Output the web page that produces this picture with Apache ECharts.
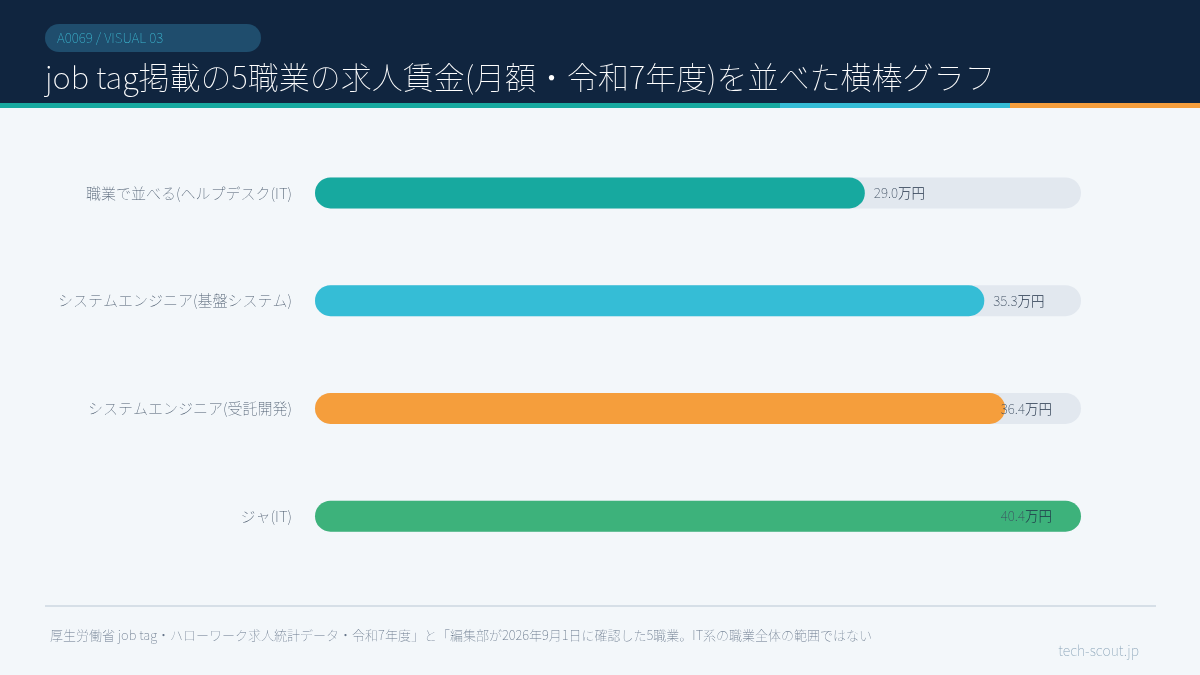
<!DOCTYPE html>
<html><head><meta charset="utf-8">
<script src="https://cdn.jsdelivr.net/npm/echarts@6/dist/echarts.min.js"></script>
<style>html,body{margin:0;padding:0;background:#f3f7fa}#c{width:1200px;height:675px}</style>
</head><body><div id="c"></div>
<script>
const categories = ['職業で並べる(ヘルプデスク(IT)', 'システムエンジニア(基盤システム)', 'システムエンジニア(受託開発)', 'ジャ(IT)'];
const values = [29.0, 35.3, 36.4, 40.4];
const barColors = ['#17a99f', '#35bdd6', '#f59e3c', '#3db27b'];
const unit = '万円';
const badgeText = 'A0069 / VISUAL 03';
const titleText = 'job tag掲載の5職業の求人賃金(月額・令和7年度)を並べた横棒グラフ';
const noteText = '厚生労働省 job tag・ハローワーク求人統計データ・令和7年度」と「編集部が2026年9月1日に確認した5職業。IT系の職業全体の範囲ではない';
const siteText = 'tech-scout.jp';

const FONT = '"Noto Sans CJK JP", "Noto Sans", sans-serif';
const maxV = Math.max(...values);
// labels near the end of the track are pinned inside the track
const pinned = values.map(v => v / maxV > 0.88);
const labelRich = {
  v: { color: '#3d4d60', fontSize: 13.5, fontFamily: FONT, fontWeight: 100 },
  u: { color: '#1f2f45', fontSize: 13.5, fontFamily: FONT, fontWeight: 300 }
};
const fmt = p => '{v|' + p.data.raw.toFixed(1) + '}{u|' + unit + '}';

const chart = echarts.init(document.getElementById('c'), null, { renderer: 'canvas' });
chart.setOption({
  backgroundColor: '#f3f7fa',
  animation: false,
  grid: { left: 315, right: 119, top: 139, bottom: 105 },
  xAxis: { type: 'value', min: 0, max: maxV, show: false },
  yAxis: {
    type: 'category', data: categories, inverse: true,
    axisLine: { show: false }, axisTick: { show: false },
    axisLabel: { margin: 23, color: '#4a5a6d', fontSize: 15, fontFamily: FONT, fontWeight: 100 }
  },
  series: [
    {
      type: 'bar', barWidth: 31, barGap: '-100%', silent: true, z: 1,
      itemStyle: { color: '#e2e8ef', borderRadius: 15.5 },
      data: values.map(v => maxV)
    },
    {
      type: 'bar', barWidth: 31, barGap: '-100%', z: 2,
      data: values.map((v, i) => ({
        value: v, raw: v,
        itemStyle: { color: barColors[i], borderRadius: 15.5 },
        label: {
          show: !pinned[i], position: 'right', distance: 9,
          formatter: fmt, rich: labelRich
        }
      }))
    },
    {
      type: 'bar', barWidth: 31, barGap: '-100%', silent: true, z: 3,
      itemStyle: { color: 'rgba(0,0,0,0)' },
      data: values.map((v, i) => ({
        value: maxV, raw: v,
        label: {
          show: pinned[i], position: 'insideRight', distance: 29,
          formatter: fmt, rich: labelRich
        }
      }))
    }
  ],
  graphic: [
    { type: 'rect', shape: { x: 0, y: 0, width: 1200, height: 104 }, style: { fill: '#10253f' }, z: 0 },
    { type: 'rect', shape: { x: 0, y: 103, width: 780, height: 5 }, style: { fill: '#17a99f' } },
    { type: 'rect', shape: { x: 780, y: 103, width: 230, height: 5 }, style: { fill: '#35bdd6' } },
    { type: 'rect', shape: { x: 1010, y: 103, width: 190, height: 5 }, style: { fill: '#f59e3c' } },
    { type: 'rect', shape: { x: 45, y: 24, width: 216, height: 28, r: 14 }, style: { fill: '#1f4d6d' } },
    { type: 'text', x: 57, y: 38, style: { text: badgeText, fill: '#3bb5cf', font: '100 13.5px ' + FONT, textVerticalAlign: 'middle' } },
    { type: 'text', x: 45, y: 77, style: { text: titleText, fill: '#ffffff', font: '100 31px ' + FONT, textVerticalAlign: 'middle' } },
    { type: 'rect', shape: { x: 45, y: 605, width: 1111, height: 2 }, style: { fill: '#d6dfe7' } },
    { type: 'text', x: 50, y: 635, style: { text: noteText, fill: '#66768a', font: '100 13px ' + FONT, textVerticalAlign: 'middle' } },
    { type: 'text', x: 1139, y: 651, style: { text: siteText, fill: '#8aa4b8', font: '100 14px ' + FONT, textAlign: 'right', textVerticalAlign: 'middle' } }
  ]
});
</script></body></html>
